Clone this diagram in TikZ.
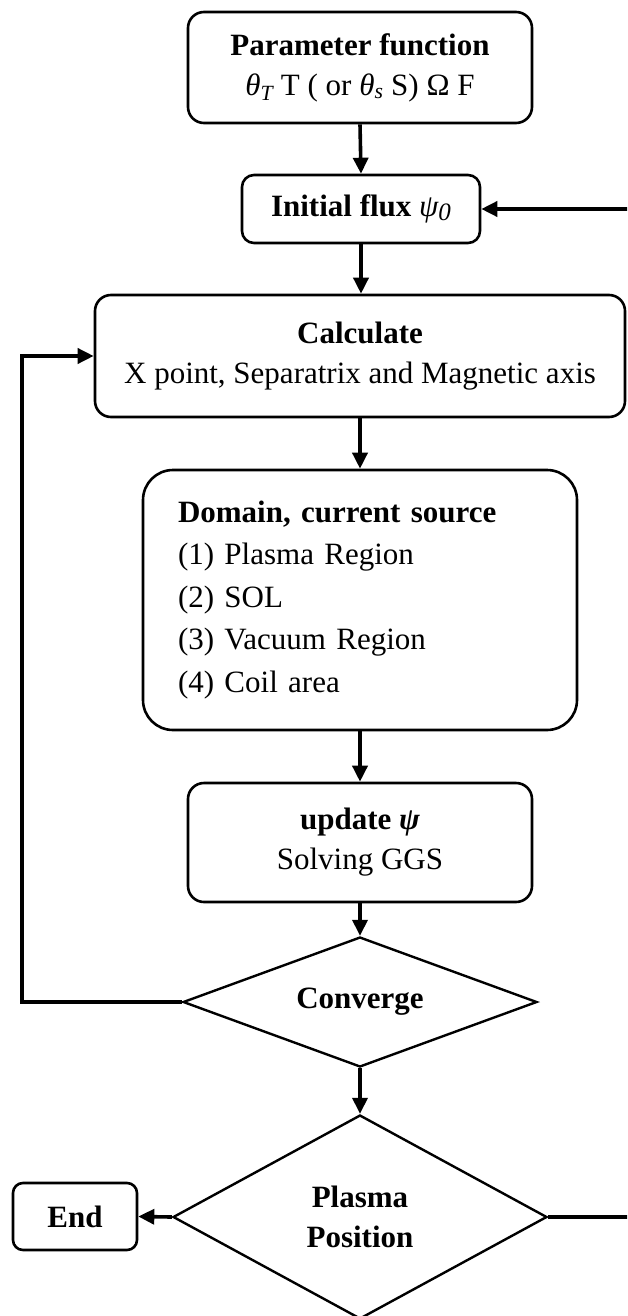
\documentclass[tikz,border=0pt]{standalone}
\usepackage{fontspec}
\setmainfont{Liberation Serif}
\usetikzlibrary{shapes.geometric,arrows.meta}

\begin{document}
\begin{tikzpicture}[x=1pt,y=-1pt,
  box/.style={draw,line width=2.6pt,rounded corners=16pt,inner sep=0pt,align=center,
    font=\fontsize{31}{40}\selectfont},
  dec/.style={draw,diamond,line width=2.4pt,inner sep=0pt,align=center,
    font=\fontsize{31}{40}\selectfont\bfseries},
  link/.style={line width=3.6pt,-{Triangle[length=16pt,width=15pt]}},
]
\useasboundingbox (0,0) rectangle (627,1316);
\clip (0,0) rectangle (627,1316);
\fill[white] (0,0) rectangle (627,1316);

% process boxes
\node[box,minimum width=344pt,minimum height=111pt] (param) at (360,67.5)
  {\textbf{Parameter function}\\
   {\itshape θ}\textsubscript{\itshape T} T ( or {\itshape θ}\textsubscript{\itshape s} S) Ω F};
\node[box,rounded corners=12pt,minimum width=238pt,minimum height=68pt] (init) at (361,209)
  {\textbf{Initial flux} {\itshape ψ\raisebox{-0.12em}{\fontsize{25}{25}\selectfont 0}}};
\node[box,minimum width=530pt,minimum height=122pt] (calc) at (360,356)
  {\textbf{Calculate}\\X point, Separatrix and Magnetic axis};
\node[box,rounded corners=30pt,text width=364pt,inner xsep=35pt,minimum height=260pt,
  align=left,font=\fontsize{31}{42.5}\selectfont] (domain) at (360,600)
  {\textbf{Domain, current source}\\(1) Plasma Region\\(2) SOL\\(3) Vacuum Region\\(4) Coil area};
\node[box,minimum width=344pt,minimum height=119pt] (upd) at (360,842.5)
  {\textbf{update} {\bfseries\itshape ψ}\\Solving GGS};

% decisions
\node[dec,aspect=2.72,minimum width=354pt,minimum height=130pt] (conv) at (360,1002) {Converge};
\node[dec,aspect=1.83,minimum width=374pt,minimum height=204pt] (pos) at (360,1217) {Plasma\\Position};

% terminal
\node[box,rounded corners=10pt,minimum width=124pt,minimum height=67pt,
  font=\fontsize{31}{40}\selectfont\bfseries] (end) at (75,1216.5) {End};

% main flow
\draw[link] (param.south) -- (init.north);
\draw[link] (init.south) -- (init.south |- calc.north);
\draw[link] (calc.south) -- (domain.north);
\draw[link] (domain.south) -- (upd.north);
\draw[link] (upd.south) -- (conv.north);
\draw[link] (conv.south) -- (pos.north);
\draw[link] (pos.west) -- (end.east);

% feedback loops
\coordinate (lc) at (22,0);
\coordinate (rc) at (670,0);
\draw[link] (conv.west) -- (conv.west -| lc) |- (calc.west);
\draw[link] (pos.east) -- (pos.east -| rc) |- (init.east);
\end{tikzpicture}
\end{document}
